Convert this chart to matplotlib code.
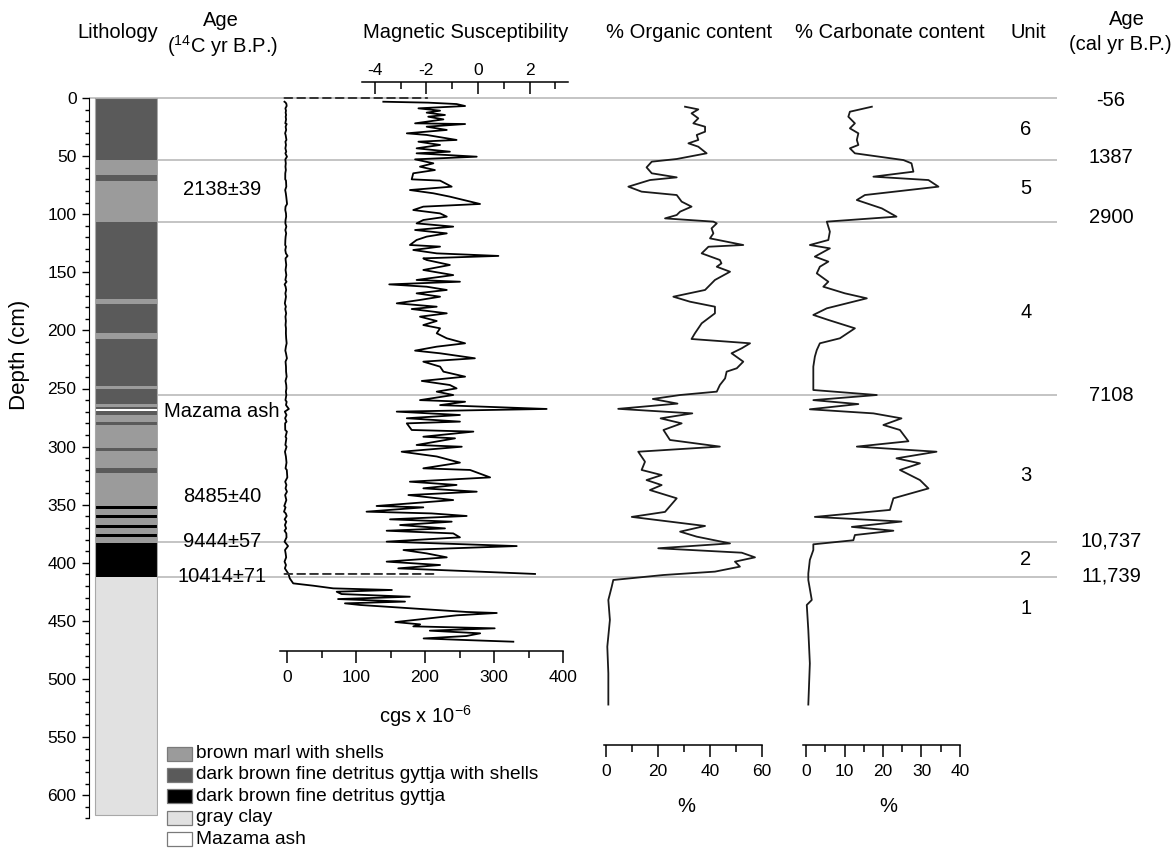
import matplotlib
matplotlib.use("Agg")
import matplotlib.pyplot as plt
from matplotlib.patches import Rectangle, ConnectionPatch
from matplotlib.ticker import FixedLocator

plt.rcParams["font.family"] = ["Liberation Sans", "DejaVu Sans"]
plt.rcParams["mathtext.fontset"] = "custom"
plt.rcParams["mathtext.rm"] = "Liberation Sans"
plt.rcParams["axes.unicode_minus"] = False

# ---------------- data ----------------
# lithology column (depth in cm)
lith_top = [0, 53, 66, 71, 107, 173, 177.5, 202.5, 207.5, 248, 250, 263, 265.5,
            267.5, 269, 273, 278.5, 281.5, 301.5, 303.5, 318.7, 322.4, 351, 353.4,
            359, 361.7, 367.5, 370.3, 375.5, 378, 382.6, 412]
lith_bottom = lith_top[1:] + [617]
lith_kind = ["gys", "marl", "gys", "marl", "gys", "marl", "gys", "marl", "gys", "marl",
             "gys", "marl", "gys", "ash", "gys", "marl", "gys", "marl", "gys", "marl",
             "gys", "marl", "gy", "marl", "gy", "marl", "gy", "marl", "gy", "marl",
             "gy", "clay"]
lith_colors = {"marl": "#9b9b9b", "gys": "#5a5a5a", "gy": "#000000",
               "clay": "#e1e1e1", "ash": "#ffffff"}
legend_kinds = ["marl", "gys", "gy", "clay", "ash"]
legend_labels = ["brown marl with shells",
                 "dark brown fine detritus gyttja with shells",
                 "dark brown fine detritus gyttja",
                 "gray clay",
                 "Mazama ash"]

# magnetic susceptibility (cgs x 1e-6)
ms_depth = [3.2, 4.0, 5.2, 6.9, 8.9, 10.9, 12.6, 14.6, 16.1, 18.4, 21.8, 22.4, 24.7,
            27.5, 30.4, 31.8, 36.1, 37.6, 40.4, 43.3, 46.2, 47.6, 50.5, 52.8, 56.2,
            59.1, 62.0, 64.8, 70.0, 71.1, 76.3, 79.2, 82.0, 84.9, 91.2, 93.5, 96.4,
            99.3, 102.1, 105.0, 107.9, 110.7, 113.6, 116.5, 119.3, 122.2, 126.5,
            127.9, 130.8, 133.7, 135.9, 138.0, 139.4, 143.7, 148.0, 152.4, 156.6,
            158.1, 160.4, 162.4, 165.2, 168.1, 171.0, 173.8, 176.7, 179.6, 181.6,
            185.3, 188.2, 191.9, 195.4, 198.2, 202.5, 206.8, 211.1, 214.0, 217.4,
            219.7, 224.0, 226.9, 231.2, 235.5, 239.8, 243.5, 247.0, 249.9, 252.7,
            255.6, 260.0, 261.4, 264.3, 267.6, 269.9, 272.8, 275.6, 278.5, 280.0,
            285.7, 287.1, 291.5, 292.9, 298.6, 300.1, 304.4, 308.5, 313.8, 318.7,
            320.1, 326.5, 330.2, 333.0, 335.9, 338.8, 341.7, 346.0, 351.1, 352.3,
            356.0, 357.5, 359.7, 362.6, 364.6, 367.5, 370.4, 372.4, 374.7, 378.1,
            381.8, 385.6, 389.0, 391.9, 395.3, 399.0, 401.9, 404.8, 406.8, 409.6,
            413.4, 417.7, 419.7, 422.0, 423.4, 424.9, 426.9, 429.2, 431.2, 433.4,
            434.9, 436.3, 442.3, 443.2, 445.2, 448.1, 451.0, 453.0, 454.7, 456.4,
            458.4, 460.7, 463.0, 465.1, 466.5, 467.9]
ms_cgs = [-3.67, -1.93, -0.83, -0.50, -2.31, -1.47, -1.99, -1.28, -1.93, -1.34, -2.44,
          -0.50, -1.99, -1.21, -2.76, -1.99, -0.83, -2.31, -1.47, -2.38, -1.09, -2.38,
          -0.05, -2.44, -1.73, -2.25, -1.67, -2.51, -2.57, -1.47, -1.02, -2.64, -1.73,
          -1.09, 0.08, -2.12, -2.51, -1.47, -1.21, -2.12, -2.38, -0.96, -2.44, -1.21,
          -1.99, -2.38, -2.64, -1.47, -2.51, -1.60, 0.79, -2.12, -1.99, -1.09, -2.12,
          -0.96, -2.38, -0.70, -3.44, -1.99, -1.21, -2.38, -1.47, -2.25, -3.15, -1.60,
          -2.57, -1.21, -2.25, -1.60, -2.12, -1.47, -1.60, -1.21, -0.50, -1.60, -2.44,
          -1.47, -0.12, -2.12, -1.47, -1.34, -0.50, -2.18, -1.09, -0.83, -1.60, -0.96,
          -2.25, -0.50, -1.47, 2.66, -3.15, -0.70, -2.76, -0.70, -2.76, -2.57, -0.18,
          -2.12, -0.89, -2.38, -0.63, -2.96, -1.60, -0.70, -2.12, -0.31, 0.47, -2.64,
          -0.83, -2.12, -0.05, -2.70, -0.96, -3.93, -2.12, -4.32, -1.80, -0.44, -3.41,
          -1.02, -3.02, -1.28, -3.54, -0.96, -0.70, -3.54, 1.50, -2.89, -1.99, -1.21,
          -3.54, -1.47, -3.09, -0.83, 2.21,
          4, 9, 38, 67, 152, 72, 79, 178, 74, 171, 84, 106, 260, 304, 246, 202, 157,
          193, 183, 301, 207, 280, 260, 198, 260, 328]
ms_zoom_limit = 410   # the upper curve (expanded scale) covers 0-410 cm
link_depths = [0, 409.6]
link_top_values = [-1.97, -1.67]

# % organic content
org_depth = [7.5, 9.8, 13.2, 17.5, 21.8, 24.7, 29.0, 31.8, 36.1, 39.0, 41.9, 47.6, 52.5,
             54.8, 59.7, 64.8, 68.3, 70.6, 76.3, 80.6, 83.5, 89.2, 93.5, 97.8, 100.7,
             103.6, 106.4, 107.9, 112.2, 116.5, 120.8, 126.5, 128.0, 133.7, 139.4,
             142.3, 145.2, 149.5, 156.6, 160.9, 165.2, 171.0, 175.3, 179.6, 185.3,
             193.9, 202.5, 207.4, 211.1, 215.4, 219.7, 226.9, 232.6, 235.5, 241.3,
             247.0, 252.7, 255.6, 259.0, 263.0, 267.5, 271.4, 275.7, 280.0, 285.7,
             294.3, 300.0, 304.4, 313.0, 320.1, 324.5, 328.8, 333.1, 337.4, 344.5,
             356.2, 360.5, 368.3, 373.2, 377.5, 383.3, 387.5, 391.3, 395.3, 399.0,
             403.3, 407.6, 410.5, 414.8, 420.6, 432.0, 449.2, 472.2, 495.1, 522.0]
org_pct = [30.4, 35.5, 32.9, 35.5, 33.6, 38.1, 38.1, 34.9, 35.5, 31.7, 35.5, 38.7, 27.2,
           17.6, 15.6, 17.6, 27.2, 16.9, 8.6, 13.7, 27.2, 29.1, 32.9, 28.5, 27.2, 22.7,
           41.3, 42.6, 40.6, 41.3, 40.0, 52.8, 39.4, 36.8, 43.8, 44.4, 42.6, 47.7, 41.9,
           40.0, 38.1, 25.9, 32.3, 41.9, 41.9, 36.8, 34.2, 32.9, 55.4, 52.2, 48.3, 52.8,
           50.3, 46.4, 45.8, 43.8, 42.6, 28.5, 18.0, 27.5, 4.7, 33.2, 21.0, 29.1, 22.1,
           24.6, 43.8, 12.4, 15.0, 13.7, 21.4, 15.6, 21.4, 16.9, 27.2, 22.7, 9.9, 38.1,
           28.5, 34.9, 47.7, 20.1, 52.2, 57.3, 49.6, 51.5, 41.9, 22.1, 2.8, 2.2, 0.9,
           1.5, 0.5, 0.9, 0.9]

# % carbonate content
carb_depth = [7.5, 11.8, 16.1, 21.8, 26.1, 30.4, 36.1, 40.4, 43.3, 47.6, 53.4, 56.2,
              63.4, 67.7, 70.6, 76.3, 83.5, 87.8, 95.0, 102.1, 106.4, 110.7, 115.0,
              122.2, 126.5, 129.4, 136.5, 140.8, 145.2, 150.9, 158.1, 162.4, 168.1,
              172.4, 181.0, 186.7, 191.0, 198.2, 206.8, 211.1, 216.9, 222.6, 231.2,
              242.7, 251.3, 255.6, 260.0, 263.4, 267.9, 271.4, 275.7, 281.4, 285.7,
              295.4, 300.0, 304.4, 310.1, 314.4, 320.1, 328.8, 336.0, 344.5, 354.5,
              360.5, 364.5, 369.1, 372.4, 376.1, 380.6, 384.1, 389.0, 397.5, 409.2,
              414.8, 432.0, 436.3, 457.9, 486.6, 522.0]
carb_pct = [17.1, 11.4, 11.0, 12.7, 11.4, 13.6, 13.2, 13.6, 11.4, 12.7, 25.3, 27.4, 27.9,
            17.5, 31.8, 34.4, 15.3, 13.2, 19.7, 23.5, 5.4, 5.8, 6.2, 5.8, 1.0, 6.2, 2.3,
            5.8, 3.6, 2.8, 5.8, 4.5, 10.1, 15.8, 5.4, 1.9, 5.8, 12.7, 8.8, 3.6, 2.8, 2.3,
            1.9, 1.9, 1.9, 18.4, 1.9, 13.6, 1.0, 17.5, 24.8, 20.1, 24.4, 26.6, 13.2, 33.9,
            23.5, 29.6, 24.4, 29.6, 31.8, 22.7, 21.8, 2.3, 24.8, 11.9, 22.7, 12.7, 12.3,
            1.9, 1.9, 1.0, 0.6, 0.6, 1.5, 0.2, 0.6, 1.0, 0.6]

# unit boundaries, units and ages
bound_depths = [0, 53, 107, 256, 382, 412]
cal_ages = ["-56", "1387", "2900", "7108", "10,737", "11,739"]
cal_label_depths = [2, 51, 103, 256, 381, 411]
unit_names = ["6", "5", "4", "3", "2", "1"]
unit_depths = [27.5, 77.5, 185, 325, 397.5, 439]
c14_labels = ["2138±39", "Mazama ash", "8485±40", "9444±57", "10414±71"]
c14_depths = [79, 270, 343, 382, 411.5]

# ---------------- layout (pixels) ----------------
W, H = 1173, 850
Y0, SCALE = 98.0, 1.162   # pixel row of depth 0 and pixels per cm
FS = 14.5
TICK_FS = 12.5
CURVE_LW = 1.3

fig = plt.figure(figsize=(W / 100, H / 100), dpi=100)


def px_axes(left, top, right, bottom, zero_px=None, px_per_unit=None):
    ax = fig.add_axes([left / W, 1 - bottom / H, (right - left) / W, (bottom - top) / H])
    ax.set_ylim((bottom - Y0) / SCALE, (top - Y0) / SCALE)
    if zero_px is not None:
        ax.set_xlim((left - zero_px) / px_per_unit, (right - zero_px) / px_per_unit)
    ax.patch.set_visible(False)
    return ax


def style_bottom(ax, lo, hi, majors, minors):
    for s in ("top", "left", "right"):
        ax.spines[s].set_visible(False)
    ax.spines["bottom"].set_bounds(lo, hi)
    ax.spines["bottom"].set_linewidth(1.1)
    ax.xaxis.set_major_locator(FixedLocator(majors))
    ax.xaxis.set_minor_locator(FixedLocator(minors))
    ax.tick_params(axis="x", which="major", direction="out", length=8.5, width=1.1,
                   labelsize=TICK_FS, pad=5)
    ax.tick_params(axis="x", which="minor", direction="out", length=5, width=1.1)
    ax.yaxis.set_visible(False)


# pixel overlay for headings and legend
ov = fig.add_axes([0, 0, 1, 1])
ov.set_xlim(0, W)
ov.set_ylim(H, 0)
ov.axis("off")

# depth-scaled overlay for boundary lines and depth-bound labels
ann = px_axes(0, 0, W, H, 0, 1)
ann.axis("off")
ann.hlines(bound_depths, 157, 1057, color="#b4b4b4", lw=1.1, zorder=0)
ann.hlines(bound_depths[0], 89, 157, color="#b4b4b4", lw=1.1, zorder=0)
for lab, d in zip(c14_labels, c14_depths):
    ann.text(222, d, lab, fontsize=FS, ha="center", va="center")
for lab, d in zip(cal_ages, cal_label_depths):
    ann.text(1111, d, lab, fontsize=FS, ha="center", va="center")
for lab, d in zip(unit_names, unit_depths):
    ann.text(1026, d, lab, fontsize=FS, ha="center", va="center")

# ---- lithology column with depth axis ----
ax_l = px_axes(89, Y0, 158, Y0 + 620 * SCALE, 0, 1)
ax_l.set_xlim(89, 158)
ax_l.barh([(t + b) / 2 for t, b in zip(lith_top, lith_bottom)],
          [62] * len(lith_top),
          height=[b - t for t, b in zip(lith_top, lith_bottom)],
          left=95, color=[lith_colors[k] for k in lith_kind], edgecolor="none")
ax_l.add_patch(Rectangle((95, 0), 62, lith_bottom[-1], fill=False,
                         edgecolor="#a8a8a8", lw=0.8))
for s in ("top", "right", "bottom"):
    ax_l.spines[s].set_visible(False)
ax_l.xaxis.set_visible(False)
ax_l.yaxis.set_major_locator(FixedLocator(range(0, 601, 50)))
ax_l.yaxis.set_minor_locator(FixedLocator(range(0, 621, 10)))
ax_l.tick_params(axis="y", which="major", length=5, width=1, labelsize=TICK_FS, pad=4)
ax_l.tick_params(axis="y", which="minor", length=3, width=1)
ov.text(20, 355, "Depth (cm)", fontsize=16, rotation=90, ha="center", va="center")

# ---- magnetic susceptibility ----
ax_ms = px_axes(280, 81.7, 568, 651, 287, 0.69)
ax_ms.plot(ms_cgs, ms_depth, color="black", lw=CURVE_LW)
style_bottom(ax_ms, -10, 400, [0, 100, 200, 300, 400], [50, 150, 250, 350])

ax_top = ax_ms.twiny()
ax_top.set_xlim((280 - 478) / 25.8, (568 - 478) / 25.8)
ax_top.patch.set_visible(False)
zd = [d for d in ms_depth if d <= ms_zoom_limit]
ax_top.plot(ms_cgs[:len(zd)], zd, color="black", lw=CURVE_LW)
for s in ("bottom", "left", "right"):
    ax_top.spines[s].set_visible(False)
ax_top.spines["top"].set_bounds(-4.5, 3.5)
ax_top.spines["top"].set_linewidth(1.1)
ax_top.xaxis.set_major_locator(FixedLocator([-4, -2, 0, 2]))
ax_top.xaxis.set_minor_locator(FixedLocator([-3, -1, 1, 3]))
ax_top.tick_params(axis="x", which="major", direction="in", length=8.5, width=1.1,
                   labelsize=TICK_FS, pad=3)
ax_top.tick_params(axis="x", which="minor", direction="in", length=5, width=1.1)

for d, v in zip(link_depths, link_top_values):
    con = ConnectionPatch(xyA=(ms_cgs[0], d), coordsA=ax_ms.transData,
                          xyB=(v, d), coordsB=ax_top.transData,
                          linestyle=(0, (4, 2.6)), color="#333333", lw=1.4)
    fig.add_artist(con)

# ---- % organic ----
ax_o = px_axes(596, 81.7, 770, 745, 606, 2.6)
ax_o.plot(org_pct, org_depth, color="#1a1a1a", lw=CURVE_LW)
style_bottom(ax_o, -0.8, 60, [0, 20, 40, 60], [10, 30, 50])

# ---- % carbonate ----
ax_c = px_axes(796, 81.7, 968, 745, 806, 3.85)
ax_c.plot(carb_pct, carb_depth, color="#1a1a1a", lw=CURVE_LW)
style_bottom(ax_c, -0.8, 40, [0, 10, 20, 30, 40], [5, 15, 25, 35])

# ---- headings ----
ov.text(118, 32, "Lithology", fontsize=FS, ha="center", va="center")
ov.text(221, 20, "Age", fontsize=FS, ha="center", va="center")
ov.text(222, 46, "($\\mathregular{^{14}}$C yr B.P.)", fontsize=FS, ha="center", va="center")
ov.text(466, 32, "Magnetic Susceptibility", fontsize=FS, ha="center", va="center")
ov.text(689, 32, "% Organic content", fontsize=FS, ha="center", va="center")
ov.text(890, 32, "% Carbonate content", fontsize=FS, ha="center", va="center")
ov.text(1028, 32, "Unit", fontsize=FS, ha="center", va="center")
ov.text(1127, 19, "Age", fontsize=FS, ha="center", va="center")
ov.text(1120, 44, "(cal yr B.P.)", fontsize=FS, ha="center", va="center")
ov.text(425, 716, "cgs x 10$\\mathregular{^{-6}}$", fontsize=FS, ha="center", va="center")
ov.text(686, 806, "%", fontsize=FS, ha="center", va="center")
ov.text(888, 806, "%", fontsize=FS, ha="center", va="center")

# ---- legend ----
for i, (k, lab) in enumerate(zip(legend_kinds, legend_labels)):
    yc = 753.5 + i * 21.4
    ov.add_patch(Rectangle((167, yc - 7), 25, 14, facecolor=lith_colors[k],
                           edgecolor="#7a7a7a", lw=0.9))
    ov.text(196, yc, lab, fontsize=13.8, ha="left", va="center")

fig.savefig("out.png", dpi=100)
